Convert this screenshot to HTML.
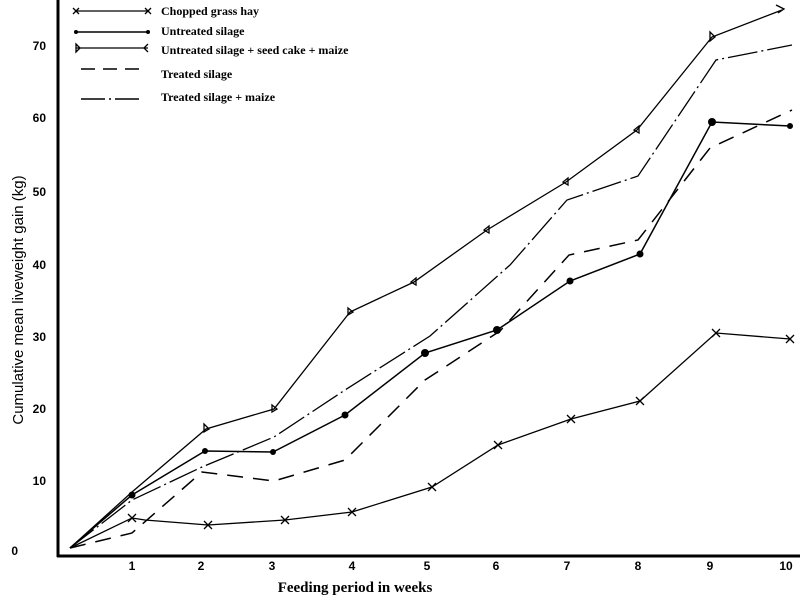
<!DOCTYPE html>
<html><head><meta charset="utf-8"><style>
html,body{margin:0;padding:0;background:#fff;}
svg{display:block;}
text{font-family:"Liberation Sans",sans-serif;fill:#000;}
</style></head><body>
<svg width="800" height="600" viewBox="0 0 800 600" xmlns="http://www.w3.org/2000/svg">
<g stroke="#000" fill="none">
<line x1="58" y1="0" x2="58" y2="557" stroke-width="3"/>
<line x1="57" y1="556" x2="800" y2="556" stroke-width="3"/>
<!-- Chopped grass hay -->
<polyline stroke-width="1.3" points="70,548 132,518 145,520 208,525 285,520 352,512 432,487 498,445 571,419 640,401 716,333 790,339"/>
<!-- Untreated silage -->
<polyline stroke-width="1.5" points="70,548 132,495 205,451 273,452 345,415 425,353 497,330 570,281 640,254 712,122 790,126"/>
<!-- Untreated + seed cake + maize -->
<polyline stroke-width="1.3" points="70,548 132,492 206,429 274,409 350,312 414,282 487,230 566,182 637,130 712,37 782,10"/>
<!-- Treated silage -->
<polyline stroke-width="1.5" stroke-dasharray="16,10" points="70,548 132,533 202,472 274,481 345,460 425,380 500,331 569,255 638,240 710,148 792,110"/>
<!-- Treated silage + maize -->
<polyline stroke-width="1.3" stroke-dasharray="30,4,2,4" points="70,548 132,500 202,467 274,437 345,390 430,336 510,265 567,200 638,176 716,60 792,45"/>
<!-- markers -->
<g stroke-width="1.3">
<path d="M128,514l8,8M136,514l-8,8 M204,521l8,8M212,521l-8,8 M281,516l8,8M289,516l-8,8 M348,508l8,8M356,508l-8,8 M428,483l8,8M436,483l-8,8 M494,441l8,8M502,441l-8,8 M567,415l8,8M575,415l-8,8 M636,397l8,8M644,397l-8,8 M712,329l8,8M720,329l-8,8 M786,335l8,8M794,335l-8,8"/>
<path d="M204,424l5,5l-5,3z M272,405l5,4l-5,3z M348,308l5,4l-5,3z M416,278l-5,4l5,3z M489,226l-5,4l5,3z M568,178l-5,4l5,3z M639,126l-5,4l5,3z M710,32l5,5l-5,4z M776,5l8,4l-6,4"/>
</g>
</g>
<g fill="#000">
<circle cx="132" cy="495" r="3.5"/><circle cx="205" cy="451" r="3"/><circle cx="273" cy="452" r="3"/><circle cx="345" cy="415" r="3.5"/><circle cx="425" cy="353" r="4"/><circle cx="497" cy="330" r="4"/><circle cx="570" cy="281" r="3.5"/><circle cx="640" cy="254" r="3.5"/><circle cx="712" cy="122" r="4"/><circle cx="790" cy="126" r="3"/>
</g>
<!-- legend -->
<g stroke="#000" stroke-width="1.3" fill="none">
<line x1="76" y1="11" x2="148" y2="11"/><path d="M73,8l6,6M79,8l-6,6M145,8l6,6M151,8l-6,6"/>
<line x1="76" y1="32" x2="148" y2="32" stroke-width="1.6"/>
<line x1="76" y1="48" x2="148" y2="48"/><path d="M76,44l4,4l-4,4z M148,44l-4,4l4,4"/>
<line x1="81" y1="69" x2="142" y2="69" stroke-width="1.6" stroke-dasharray="14,8"/>
<line x1="81" y1="99" x2="142" y2="99" stroke-width="1.6" stroke-dasharray="24,4,2,4"/>
</g>
<circle cx="76" cy="32" r="2" fill="#000"/><circle cx="148" cy="32" r="2" fill="#000"/>
<g font-size="12" font-weight="bold" font-family="Liberation Serif,serif">
<text x="161" y="15" style="font-family:'Liberation Serif',serif">Chopped grass hay</text>
<text x="161" y="35" style="font-family:'Liberation Serif',serif">Untreated silage</text>
<text x="161" y="54" style="font-family:'Liberation Serif',serif">Untreated silage + seed cake + maize</text>
<text x="161" y="78" style="font-family:'Liberation Serif',serif">Treated silage</text>
<text x="161" y="101" style="font-family:'Liberation Serif',serif">Treated silage + maize</text>
</g>
<!-- ticks -->
<g font-size="12" font-weight="bold" text-anchor="middle">
<text x="132" y="570">1</text><text x="201" y="570">2</text><text x="272" y="570">3</text><text x="352" y="570">4</text><text x="427" y="570">5</text><text x="496" y="570">6</text><text x="567" y="570">7</text><text x="638" y="570">8</text><text x="710" y="570">9</text><text x="786" y="570">10</text>
</g>
<g font-size="12" font-weight="bold" text-anchor="end">
<text x="18" y="555">0</text><text x="46" y="485">10</text><text x="46" y="413">20</text><text x="46" y="341">30</text><text x="46" y="269">40</text><text x="46" y="196">50</text><text x="46" y="122">60</text><text x="46" y="50">70</text>
</g>
<text x="355" y="592" font-size="15" font-weight="bold" text-anchor="middle" style="font-family:'Liberation Serif',serif">Feeding period in weeks</text>
<text transform="translate(23,300) rotate(-90)" font-size="15" text-anchor="middle">Cumulative mean liveweight gain (kg)</text>
</svg>
</body></html>
